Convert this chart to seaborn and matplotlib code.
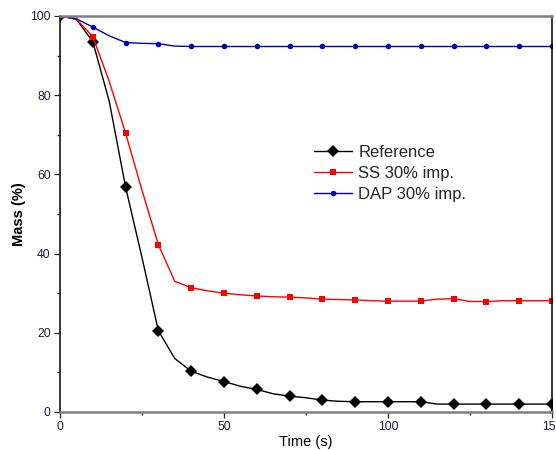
import numpy as np
import pandas as pd
import matplotlib
matplotlib.use("Agg")
import matplotlib.pyplot as plt
from matplotlib.ticker import MultipleLocator
import seaborn as sns

time_s = [0, 5, 10, 15, 20, 25, 30, 35, 40, 45, 50, 55, 60, 65, 70, 75,
          80, 85, 90, 95, 100, 105, 110, 115, 120, 125, 130, 135, 140, 145, 150]
reference = [100, 99.2, 93.5, 78.5, 56.8, 39.0, 20.5, 13.5, 10.3, 8.8, 7.7, 6.5,
             5.7, 4.6, 4.0, 3.6, 3.0, 2.7, 2.6, 2.6, 2.6, 2.6, 2.6, 2.0, 2.0,
             2.0, 2.0, 2.0, 2.0, 2.0, 2.0]
ss_30 = [100, 99.2, 94.8, 83.5, 70.4, 56.0, 42.2, 33.0, 31.4, 30.6, 30.0, 29.6,
         29.3, 29.1, 29.0, 28.8, 28.5, 28.4, 28.3, 28.1, 28.0, 28.0, 28.0, 28.5,
         28.6, 27.9, 27.9, 28.1, 28.1, 28.1, 28.1]
dap_30 = [100, 99.3, 97.2, 95.0, 93.3, 93.1, 93.0, 92.4, 92.3, 92.3, 92.3, 92.3,
          92.3, 92.3, 92.3, 92.3, 92.3, 92.3, 92.3, 92.3, 92.3, 92.3, 92.3, 92.3,
          92.3, 92.3, 92.3, 92.3, 92.3, 92.3, 92.3]
labels = ["Reference", "SS 30% imp.", "DAP 30% imp."]

sns.set_style("ticks")
plt.rcParams["font.family"] = ["Liberation Sans", "DejaVu Sans"]

fig = plt.figure(figsize=(5.56, 4.5), dpi=100)
ax = fig.add_axes([60 / 556, 38 / 450, 492 / 556, 396 / 450])

df = pd.DataFrame({"t": time_s, "ref": reference, "ss": ss_30, "dap": dap_30})

sns.lineplot(data=df, x="t", y="ref", ax=ax, color="black", lw=1.0,
             marker="D", markersize=6.5, markevery=2, markeredgewidth=0,
             label=labels[0])
sns.lineplot(data=df, x="t", y="ss", ax=ax, color="red", lw=1.0,
             marker="s", markersize=4, markevery=2, markeredgewidth=0,
             label=labels[1])
sns.lineplot(data=df, x="t", y="dap", ax=ax, color="#0000b0", lw=1.0,
             marker="o", markersize=4, markevery=2, markeredgewidth=0,
             label=labels[2])

ax.set_xlim(0, 150)
ax.set_ylim(0, 100)
ax.xaxis.set_major_locator(MultipleLocator(50))
ax.xaxis.set_minor_locator(MultipleLocator(25))
ax.yaxis.set_major_locator(MultipleLocator(20))
ax.yaxis.set_minor_locator(MultipleLocator(10))

tick_color = "#1c1c3c"
ax.tick_params(axis="both", which="major", direction="out", length=4.2,
               width=0.9, labelsize=8.8, labelcolor=tick_color, pad=2.5)
ax.tick_params(axis="both", which="minor", direction="out", length=2.4, width=0.9)

for side in ["top", "bottom"]:
    ax.spines[side].set_visible(True)
    ax.spines[side].set_color("#808080")
    ax.spines[side].set_linewidth(1.8)
for side in ["left", "right"]:
    ax.spines[side].set_visible(True)
    ax.spines[side].set_color("black")
    ax.spines[side].set_linewidth(1.1)

ax.set_xlabel("Time (s)", fontsize=10.5, color="black", labelpad=1)
ax.set_ylabel("Mass (%)", fontsize=10.5, fontweight="bold", color="black", labelpad=3)

leg = ax.legend(loc="upper left", bbox_to_anchor=(314 / 556, 1 - 145 / 450),
                bbox_transform=fig.transFigure, frameon=False, fontsize=12,
                handlelength=2.3, handletextpad=0.35, labelspacing=0.36,
                borderpad=0, borderaxespad=0)

fig.savefig("out.png", dpi=100)
